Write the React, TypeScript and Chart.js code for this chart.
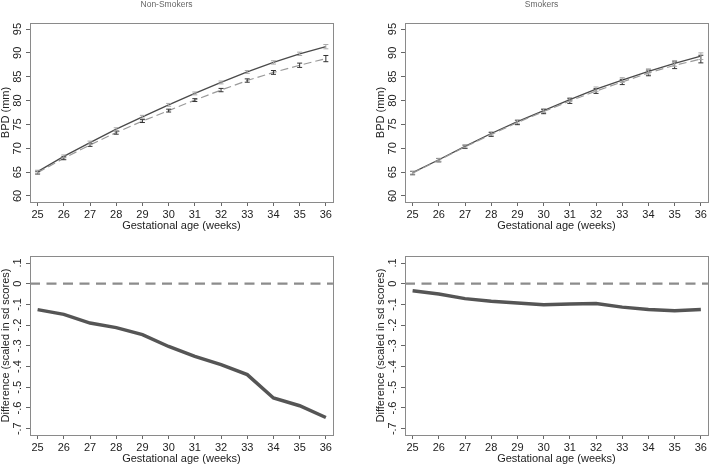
import React, { useEffect, useRef } from "react";
import { Chart, registerables } from "chart.js";

Chart.register(...registerables);

// gestational age (weeks)
const weeks = [25, 26, 27, 28, 29, 30, 31, 32, 33, 34, 35, 36];

// Non-smokers: BPD (mm) means and half-widths of the error bars
const nsSolid = [65.1, 68.3, 71.2, 74.0, 76.6, 79.1, 81.5, 83.8, 86.0, 88.0, 89.8, 91.3];
const nsSolidErr = [0.3, 0.3, 0.3, 0.3, 0.3, 0.3, 0.3, 0.3, 0.3, 0.35, 0.35, 0.45];
const nsDashed = [64.9, 67.9, 70.7, 73.3, 75.7, 77.9, 80.1, 82.2, 84.2, 85.9, 87.4, 88.8];
const nsDashedErr = [0.3, 0.3, 0.3, 0.35, 0.3, 0.3, 0.3, 0.35, 0.35, 0.4, 0.45, 0.65];

// Smokers
const sSolid = [64.9, 67.6, 70.4, 73.1, 75.6, 77.9, 80.2, 82.4, 84.3, 86.1, 87.8, 89.3];
const sSolidErr = [0.3, 0.3, 0.3, 0.35, 0.35, 0.4, 0.4, 0.45, 0.5, 0.55, 0.6, 0.7];
const sDashed = [64.8, 67.5, 70.3, 72.9, 75.4, 77.7, 79.9, 82.0, 83.9, 85.8, 87.4, 88.7];
const sDashedErr = [0.35, 0.35, 0.35, 0.4, 0.45, 0.45, 0.5, 0.5, 0.55, 0.6, 0.7, 0.8];

// difference scaled in sd scores
const diffNonSmokers = [-0.125, -0.148, -0.19, -0.212, -0.246, -0.303, -0.351, -0.391, -0.439, -0.552, -0.589, -0.646];
const diffSmokers = [-0.034, -0.05, -0.072, -0.085, -0.093, -0.101, -0.098, -0.096, -0.113, -0.124, -0.13, -0.124];

const bpdTicks = [60, 65, 70, 75, 80, 85, 90, 95];
const diffTicks = [0.1, 0, -0.1, -0.2, -0.3, -0.4, -0.5, -0.6, -0.7];

const X_MIN = 24.71;
const X_MAX = 36.27;

const FONT = "'Liberation Sans', Arial, Helvetica, sans-serif";
const TEXT = "#222";
const AXIS = "#666";
const FRAME = "#8a8a8a";

const toPoints = (ys: number[]) => ys.map((y, i) => ({ x: weeks[i], y }));

const fmtDiff = (v: number) => {
  if (v === 0) return "0";
  return (v < 0 ? "-" : "") + Math.abs(v).toFixed(1).replace(/^0/, "");
};

// draws vertical error bars with caps from dataset.errors
const errorBars = {
  id: "errorBars",
  afterDatasetsDraw(chart: any) {
    const { ctx } = chart;
    const xs = chart.scales.x;
    const ys = chart.scales.y;
    chart.data.datasets.forEach((ds: any) => {
      if (!ds.errors) return;
      ctx.save();
      ctx.strokeStyle = ds.errorColor;
      ctx.lineWidth = 1;
      ds.data.forEach((p: any, j: number) => {
        const e = ds.errors[j];
        const x = xs.getPixelForValue(p.x);
        const y1 = ys.getPixelForValue(p.y - e);
        const y2 = ys.getPixelForValue(p.y + e);
        ctx.beginPath();
        ctx.moveTo(x, y1);
        ctx.lineTo(x, y2);
        ctx.moveTo(x - 2.5, y1);
        ctx.lineTo(x + 2.5, y1);
        ctx.moveTo(x - 2.5, y2);
        ctx.lineTo(x + 2.5, y2);
        ctx.stroke();
      });
      ctx.restore();
    });
  },
};

// box around the plot region
const frame = {
  id: "frame",
  beforeDatasetsDraw(chart: any) {
    const { ctx, chartArea: a } = chart;
    ctx.save();
    ctx.strokeStyle = FRAME;
    ctx.lineWidth = 1;
    ctx.strokeRect(Math.round(a.left) + 0.5, Math.round(a.top) + 0.5, Math.round(a.right - a.left), Math.round(a.bottom - a.top));
    ctx.restore();
  },
};

const makeScales = (yMin: number, yMax: number, yVals: number[], yTitle: string, fmt: (v: number) => string) => ({
  x: {
    type: "linear",
    min: X_MIN,
    max: X_MAX,
    afterBuildTicks: (s: any) => {
      s.ticks = weeks.map((v) => ({ value: v }));
    },
    afterFit: (s: any) => {
      s.height = 29;
    },
    grid: { display: true, drawOnChartArea: false, drawTicks: true, tickLength: 4, color: AXIS },
    border: { display: true, color: FRAME },
    ticks: { font: { family: FONT, size: 11 }, color: TEXT, padding: 2, maxRotation: 0, autoSkip: false },
    title: { display: true, text: "Gestational age (weeks)", font: { family: FONT, size: 11, lineHeight: 1 }, color: TEXT, padding: 0 },
  },
  y: {
    type: "linear",
    min: yMin,
    max: yMax,
    afterBuildTicks: (s: any) => {
      s.ticks = yVals.map((v) => ({ value: v }));
    },
    afterFit: (s: any) => {
      s.width = 30;
    },
    grid: { display: true, drawOnChartArea: false, drawTicks: true, tickLength: 4, color: AXIS },
    border: { display: true, color: FRAME },
    ticks: {
      font: { family: FONT, size: 11 },
      color: TEXT,
      minRotation: 90,
      maxRotation: 90,
      crossAlign: "center",
      padding: 1.5,
      autoSkip: false,
      callback: (v: number) => fmt(v),
    },
    title: { display: true, text: yTitle, font: { family: FONT, size: 11, lineHeight: 1 }, color: TEXT, padding: 0 },
  },
});

const bpdConfig = (title: string, solid: number[], solidErr: number[], dashed: number[], dashedErr: number[]): any => ({
  type: "line",
  data: {
    datasets: [
      {
        data: toPoints(dashed),
        errors: dashedErr,
        errorColor: "#333",
        borderColor: "#9a9a9a",
        borderWidth: 1.2,
        borderDash: [8, 4],
        pointRadius: 0,
        tension: 0,
      },
      {
        data: toPoints(solid),
        errors: solidErr,
        errorColor: "#aaa",
        borderColor: "#4a4a4a",
        borderWidth: 1.3,
        pointRadius: 0,
        tension: 0,
      },
    ],
  },
  options: {
    animation: false,
    responsive: false,
    layout: { padding: { top: 0, right: 1, bottom: 2, left: 0 } },
    plugins: {
      legend: { display: false },
      tooltip: { enabled: false },
      title: { display: true, text: title, color: "#666", font: { family: FONT, size: 8.5, weight: "normal", lineHeight: 1.2 }, padding: { top: 0, bottom: 12.8 } },
    },
    scales: makeScales(58.74, 96.26, bpdTicks, "BPD (mm)", (v) => String(v)),
  },
  plugins: [frame, errorBars],
});

const diffConfig = (diff: number[]): any => ({
  type: "line",
  data: {
    datasets: [
      {
        data: [
          { x: X_MIN, y: 0 },
          { x: X_MAX, y: 0 },
        ],
        borderColor: "#8c8c8c",
        borderWidth: 2.2,
        borderDash: [10, 6.5],
        pointRadius: 0,
      },
      {
        data: toPoints(diff),
        borderColor: "#555",
        borderWidth: 3.5,
        pointRadius: 0,
        tension: 0,
      },
    ],
  },
  options: {
    animation: false,
    responsive: false,
    layout: { padding: { top: 23, right: 1, bottom: 2, left: 0 } },
    plugins: { legend: { display: false }, tooltip: { enabled: false } },
    scales: makeScales(-0.7304, 0.1338, diffTicks, "Difference (scaled in sd scores)", fmtDiff),
  },
  plugins: [frame],
});

const Panel = ({ left, top, build }: { left: number; top: number; build: () => any }) => {
  const ref = useRef<HTMLCanvasElement>(null);

  useEffect(() => {
    if (!ref.current) return;
    const chart = new Chart(ref.current, build());
    return () => {
      chart.destroy();
    };
  }, []);

  return (
    <canvas
      ref={ref}
      width={334}
      height={233}
      style={{ position: "absolute", left, top, width: 334, height: 233 }}
    />
  );
};

const App = () => {
  return (
    <div style={{ position: "fixed", left: 0, top: 0, width: 710, height: 466, background: "#fff", overflow: "hidden" }}>
      <Panel left={0} top={0} build={() => bpdConfig("Non-Smokers", nsSolid, nsSolidErr, nsDashed, nsDashedErr)} />
      <Panel left={375} top={0} build={() => bpdConfig("Smokers", sSolid, sSolidErr, sDashed, sDashedErr)} />
      <Panel left={0} top={233} build={() => diffConfig(diffNonSmokers)} />
      <Panel left={375} top={233} build={() => diffConfig(diffSmokers)} />
    </div>
  );
};

export default App;
